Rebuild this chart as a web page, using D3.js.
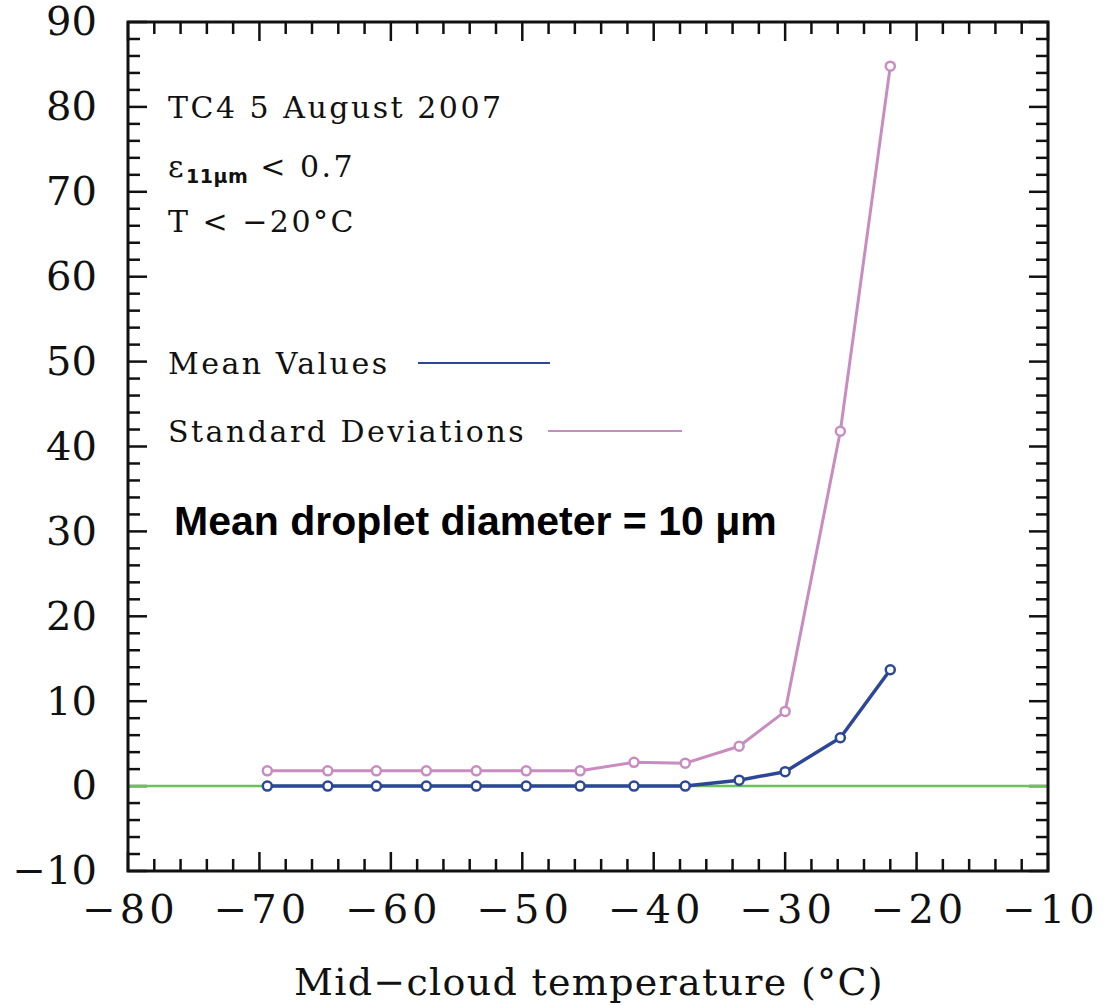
<!DOCTYPE html>
<html>
<head>
<meta charset="utf-8">
<script src="https://cdn.jsdelivr.net/npm/d3@7"></script>
<style>
html,body{margin:0;padding:0;background:#fff;}
svg{display:block;}
</style>
</head>
<body>
<svg id="chart" width="1106" height="1005"></svg>
<script>
// ---- data ----
const temps = [-69.4, -64.8, -61.1, -57.3, -53.5, -49.7, -45.6, -41.5, -37.6, -33.5, -30.0, -25.8, -22.0];
const meanValues = [0, 0, 0, 0, 0, 0, 0, 0, 0, 0.7, 1.7, 5.7, 13.7];
const stdDeviations = [1.8, 1.8, 1.8, 1.8, 1.8, 1.8, 1.8, 2.8, 2.7, 4.7, 8.8, 41.8, 84.8];
const xTicks = [-80, -70, -60, -50, -40, -30, -20, -10];
const yTicks = [-10, 0, 10, 20, 30, 40, 50, 60, 70, 80, 90];
const annotations = ["TC4 5 August 2007", "T < \u221220\u00B0C"];
const legendLabels = ["Mean Values", "Standard Deviations"];
const boldNote = "Mean droplet diameter = 10 \u03BCm";
const xTitle = "Mid\u2212cloud temperature (\u00B0C)";

const blue = "#2c4796", pink = "#c98cc1", green = "#6cc25a";
const serif = "'DejaVu Serif', 'Liberation Serif', serif";

const svg = d3.select("#chart");
const L = 128, R = 1048, T = 22, B = 871;
const x = d3.scaleLinear().domain([-80, -10]).range([L, R]);
const y = d3.scaleLinear().domain([-10, 90]).range([B, T]);

const minorX = d3.range(-80, -9, 2);
const minorY = d3.range(-10, 91, 2);
const fmt = d => d < 0 ? "\u2212" + Math.abs(d) : String(d);

// frame ticks (inward, all sides)
const tickG = svg.append("g").attr("stroke", "#111").attr("stroke-width", 2.5);
minorX.forEach(v => {
  const len = (v % 10 === 0) ? 19 : 12;
  tickG.append("line").attr("x1", x(v)).attr("x2", x(v)).attr("y1", B).attr("y2", B - len);
  tickG.append("line").attr("x1", x(v)).attr("x2", x(v)).attr("y1", T).attr("y2", T + len);
});
minorY.forEach(v => {
  const len = (v % 10 === 0) ? 19 : 12;
  tickG.append("line").attr("y1", y(v)).attr("y2", y(v)).attr("x1", L).attr("x2", L + len);
  tickG.append("line").attr("y1", y(v)).attr("y2", y(v)).attr("x1", R).attr("x2", R - len);
});

// axis labels via d3 axes (no lines)
const xAxis = svg.append("g").attr("transform", `translate(0,${B})`)
  .call(d3.axisBottom(x).tickValues(xTicks).tickFormat(fmt).tickSize(0).tickPadding(52));
xAxis.select(".domain").remove();
xAxis.selectAll("text").attr("font-family", serif).attr("font-size", 40).attr("fill", "#111")
  .attr("dy", 0).attr("letter-spacing", 4).attr("dx", 2);

const yAxis = svg.append("g").attr("transform", `translate(${L},0)`)
  .call(d3.axisLeft(y).tickValues(yTicks).tickFormat(fmt).tickSize(0).tickPadding(31));
yAxis.select(".domain").remove();
yAxis.selectAll("text").attr("font-family", serif).attr("font-size", 40).attr("fill", "#111");

// zero line
svg.append("line").attr("x1", L).attr("x2", R).attr("y1", y(0)).attr("y2", y(0))
  .attr("stroke", green).attr("stroke-width", 2.5);

// series
const line = d3.line().x(d => x(d[0])).y(d => y(d[1]));
function series(vals, color, w) {
  const pts = temps.map((t, i) => [t, vals[i]]);
  svg.append("path").datum(pts).attr("d", line).attr("fill", "none")
    .attr("stroke", color).attr("stroke-width", w).attr("stroke-linejoin", "round");
  svg.append("g").selectAll("circle").data(pts).join("circle")
    .attr("cx", d => x(d[0])).attr("cy", d => y(d[1])).attr("r", 4.5)
    .attr("fill", "#fff").attr("stroke", color).attr("stroke-width", 2.5);
}
series(stdDeviations, pink, 3);
series(meanValues, blue, 3.5);

// frame
svg.append("rect").attr("x", L).attr("y", T).attr("width", R - L).attr("height", B - T)
  .attr("fill", "none").attr("stroke", "#111").attr("stroke-width", 3);

// annotations
const ann = svg.append("g").attr("font-family", serif).attr("font-size", 30)
  .attr("fill", "#111").attr("letter-spacing", 2.5);
ann.append("text").attr("x", 168).attr("y", 118).text(annotations[0]);
const eps = ann.append("text").attr("x", 168).attr("y", 177);
eps.append("tspan").text("\u03B5");
eps.append("tspan").attr("font-size", 19).attr("dy", 6).attr("letter-spacing", 0.5)
  .attr("font-family", "'DejaVu Sans', sans-serif").attr("font-weight", "bold").text("11\u03BCm");
eps.append("tspan").attr("dy", -6).text(" < 0.7");
ann.append("text").attr("x", 168).attr("y", 232).text(annotations[1]);

// legend
const legendColors = [blue, pink];
const legendY = [363, 431];
const legendX = [[418, 550], [548, 682]];
legendLabels.forEach((lab, i) => {
  ann.append("text").attr("x", 168).attr("y", legendY[i] + 11).text(lab);
  svg.append("line").attr("x1", legendX[i][0]).attr("x2", legendX[i][1])
    .attr("y1", legendY[i]).attr("y2", legendY[i]).attr("stroke", legendColors[i]).attr("stroke-width", 2);
});

// bold note
svg.append("text").attr("x", 174).attr("y", 535)
  .attr("font-family", "'Liberation Sans', Arial, sans-serif").attr("font-weight", "bold")
  .attr("font-size", 41).attr("fill", "#000").text(boldNote);

// x title
svg.append("text").attr("x", (L + R) / 2 + 1).attr("y", 995).attr("text-anchor", "middle")
  .attr("font-family", serif).attr("font-size", 38).attr("letter-spacing", 1.3)
  .attr("fill", "#111").text(xTitle);
</script>
</body>
</html>
